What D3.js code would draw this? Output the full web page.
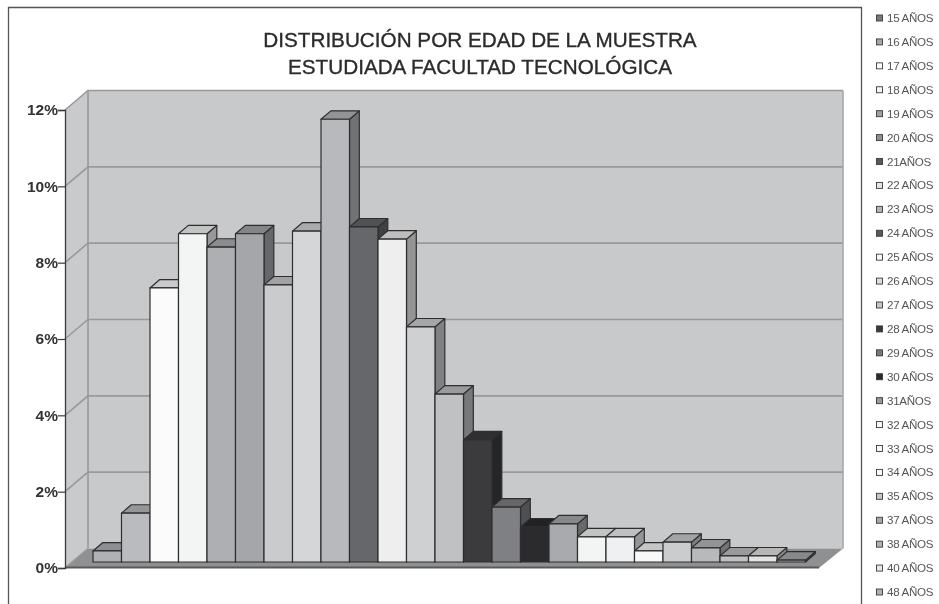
<!DOCTYPE html>
<html><head><meta charset="utf-8">
<script src="https://cdn.jsdelivr.net/npm/d3@7"></script>
<style>html,body{margin:0;padding:0;background:#fff}svg{display:block;filter:blur(0.35px)}text{font-family:"Liberation Sans",Arial,sans-serif}</style>
</head><body><div id="chart"></div>
<script>
const titleLines = ["DISTRIBUCIÓN POR EDAD DE LA MUESTRA","ESTUDIADA FACULTAD TECNOLÓGICA"];
const categories = ["15 AÑOS","16 AÑOS","17 AÑOS","18 AÑOS","19 AÑOS","20 AÑOS","21AÑOS","22 AÑOS","23 AÑOS","24 AÑOS","25 AÑOS","26 AÑOS","27 AÑOS","28 AÑOS","29 AÑOS","30 AÑOS","31AÑOS","32 AÑOS","33 AÑOS","34 AÑOS","35 AÑOS","37 AÑOS","38 AÑOS","40 AÑOS","48 AÑOS"];
const values = [0.29,1.28,7.18,8.6,8.25,8.6,7.26,8.67,11.6,8.78,8.46,6.16,4.4,3.2,1.44,0.92,1.0,0.66,0.66,0.29,0.52,0.37,0.16,0.16,0.05];
const colors = ["#b0b1b4","#babbbe","#fbfbfb","#f3f4f4","#aeafb2","#a5a6a9","#cacbcd","#d5d6d8","#b8b9bc","#66676a","#eeeeee","#cfd0d2","#c0c1c3","#3b3b3d","#7f8083","#2b2b2d","#a9aaad","#f3f4f4","#eff0f1","#f8f8f8","#cbcccd","#b8b9bb","#c0c1c3","#e3e3e3","#aaabad"];
const legendColors = ["#77787a","#a5a6a8","#fafafa","#f5f5f5","#a0a1a3","#8e8f91","#58595b","#e3e4e5","#b5b6b8","#58595b","#f8f8f8","#dcdddf","#c5c6c8","#3a3a3c","#77787a","#2b2b2d","#98999b","#f8f8f8","#f8f8f8","#fbfbfb","#c5c6c8","#a8a9ab","#b0b1b3","#e8e8e8","#b0b1b3"];
const yTicks = [0,2,4,6,8,10,12];

const W=939,H=604;
const svg=d3.select("#chart").append("svg").attr("width",W).attr("height",H);

// geometry
const fx0=65, fx1=819, bx0=88, bx1=843, dFloorY=-19.5;
const y=d3.scaleLinear().domain([0,12]).range([568,110]);
const x=d3.scaleBand().domain(categories).range([93,805.5]);
const barBaseOffset=-6, depthX=9.8, depthY=-8.4;
const yBar=v=>y(v)+barBaseOffset;

// frame
svg.append("path").attr("d",`M8.5,604V7.5H861.5V604`).attr("fill","none").attr("stroke","#555").attr("stroke-width",1.3);

// title
svg.append("g").selectAll("text").data(titleLines).join("text")
  .attr("x",480).attr("y",(d,i)=>46.5+i*27).attr("text-anchor","middle")
  .attr("font-size",20.7).attr("fill","#2b2b2d").attr("stroke","#2b2b2d").attr("stroke-width",0.35).text(d=>d);

// walls
const wallTop=y(12), wallBase=y(0);
svg.append("polygon").attr("points",[[fx0,wallBase],[bx0,wallBase+dFloorY],[bx0,wallTop+dFloorY],[fx0,wallTop]].join(" ")).attr("fill","#c9cacc");
svg.append("rect").attr("x",bx0).attr("y",wallTop+dFloorY).attr("width",bx1-bx0).attr("height",wallBase-wallTop).attr("fill","#c8c9cb");
svg.append("polygon").attr("points",[[fx0,wallBase],[bx0,wallBase+dFloorY],[bx1,wallBase+dFloorY],[fx1,wallBase]].join(" ")).attr("fill","#8f9092");

// grid
const grid=svg.append("g").attr("fill","none").attr("stroke","#99999c").attr("stroke-width",1.6);
yTicks.forEach(t=>{
  grid.append("path").attr("d",`M${fx0},${y(t)}L${bx0},${y(t)+dFloorY}`+(t>0?`H${bx1}`:""));
});
grid.append("path").attr("d",`M${bx0},${wallTop+dFloorY}V${wallBase+dFloorY}`);
grid.append("path").attr("d",`M${bx1},${wallTop+dFloorY}V${wallBase+dFloorY}`).attr("stroke","#a8a9ab");

// floor front edge
svg.append("path").attr("d",`M${fx0},${wallBase-0.5}H${fx1}`).attr("stroke","#58595b").attr("stroke-width",2);

// y axis
const axis=svg.append("g").attr("transform",`translate(${fx0},0)`)
  .call(d3.axisLeft(y).tickValues(yTicks).tickSize(7).tickPadding(0).tickFormat(d=>d+"%"));
axis.select(".domain").attr("stroke","#3a3a3c").attr("stroke-width",1.3);
axis.selectAll(".tick line").attr("stroke","#3a3a3c").attr("stroke-width",1.2);
axis.selectAll("text").attr("font-family",'"Liberation Sans",Arial,sans-serif').attr("font-size",15.5).attr("font-weight","bold").attr("fill","#333");

// bars
const shade=(c,k)=>{const o=d3.rgb(c);return d3.rgb(o.r*k,o.g*k,o.b*k).formatHex();};
const bars=svg.append("g").selectAll("g").data(categories).join("g")
  .attr("stroke","#2e2e30").attr("stroke-width",1.2).attr("stroke-linejoin","round");
bars.each(function(c,i){
  const g=d3.select(this),x0=x(c),x1=x0+x.bandwidth(),yt=yBar(values[i]),yb=yBar(0);
  g.append("polygon").attr("points",[[x1,yb],[x1+depthX,yb+depthY],[x1+depthX,yt+depthY],[x1,yt]].join(" ")).attr("fill",shade(colors[i],0.62));
  g.append("polygon").attr("points",[[x0,yt],[x0+depthX,yt+depthY],[x1+depthX,yt+depthY],[x1,yt]].join(" ")).attr("fill",shade(colors[i],0.8));
  g.append("rect").attr("x",x0).attr("y",yt).attr("width",x.bandwidth()).attr("height",yb-yt).attr("fill",colors[i]);
});

// legend
const ly=d3.scalePoint().domain(categories).range([18,592]);
const leg=svg.append("g").selectAll("g").data(categories).join("g").attr("transform",d=>`translate(0,${ly(d)})`);
leg.append("rect").attr("x",876.5).attr("y",-3).attr("width",6).attr("height",6)
  .attr("fill",(d,i)=>legendColors[i]).attr("stroke","#3a3a3c").attr("stroke-width",0.9);
leg.append("text").attr("x",887).attr("y",4).attr("font-size",11.6).attr("letter-spacing",-0.3).attr("fill","#555").text(d=>d);
</script></body></html>
